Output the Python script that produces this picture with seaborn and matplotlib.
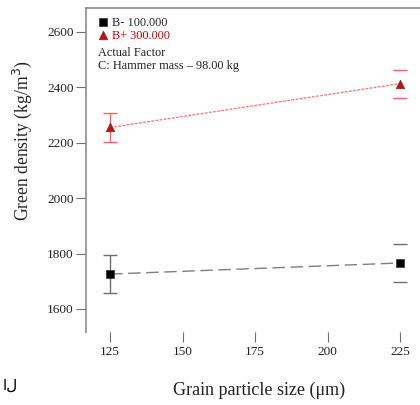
import matplotlib
matplotlib.use("Agg")
import matplotlib.pyplot as plt
import seaborn as sns
import pandas as pd

# Grain particle size levels (µm)
grain_size = [125, 225]
# Mean green density for each pressure level (kg/m^3)
density_low = [1726, 1766]     # B- 100.000
density_high = [2255, 2413]    # B+ 300.000
# Half-widths of the error bars
err_low = [68, 70]
err_high = [52, 51]

series_labels = ["B- 100.000", "B+ 300.000"]
y_ticks = [1600, 1800, 2000, 2200, 2400, 2600]
x_ticks = [125, 150, 175, 200, 225]

df = pd.DataFrame({
    "size": grain_size * 2,
    "density": density_low + density_high,
    "series": [series_labels[0]] * 2 + [series_labels[1]] * 2,
})

sns.set_style("white")
plt.rcParams["font.family"] = ["Liberation Serif", "DejaVu Serif"]

fig = plt.figure(figsize=(4.2, 4.05), dpi=100)
ax = fig.add_axes([86 / 420, 1 - 332 / 405, 1 - 86 / 420, 324 / 405])

low = df[df["series"] == series_labels[0]]
high = df[df["series"] == series_labels[1]]

# Fitted lines
sns.lineplot(data=low, x="size", y="density", ax=ax, color="#7f7f7f",
             lw=1.0, linestyle=(0, (9, 4)), legend=False)
sns.lineplot(data=high, x="size", y="density", ax=ax, color="#ff7b7b",
             lw=1.0, linestyle=(0, (2, 1)), legend=False)

# Error bars: stem on the first point, caps only on the last
for xs, ys, es, col in [(grain_size, density_low, err_low, "#6e6e6e"),
                        (grain_size, density_high, err_high, "#ff6060")]:
    ax.errorbar(xs[:1], ys[:1], yerr=es[:1], fmt="none", ecolor=col,
                elinewidth=1.0, capsize=5, capthick=1.0)
    ax.errorbar(xs[1:], ys[1:], yerr=es[1:], fmt="none", ecolor=col,
                elinewidth=0, capsize=5, capthick=1.0)

# Markers
sns.scatterplot(data=low, x="size", y="density", ax=ax, marker="s",
                color="black", s=32, edgecolor="#333333", linewidth=0.5,
                zorder=5, label=series_labels[0])
sns.scatterplot(data=high, x="size", y="density", ax=ax, marker="^",
                color="#e00000", s=38, edgecolor="#444444", linewidth=0.5,
                zorder=5, label=series_labels[1])

ax.set_xlim(116.7, 231.9)
ax.set_ylim(1517, 2686)
ax.set_xticks(x_ticks)
ax.set_yticks(y_ticks)
ax.tick_params(axis="both", direction="out", length=7, width=0.8,
               color="#6e6e6e", labelsize=9.5, labelcolor="#222222")
ax.tick_params(axis="x", pad=3)
ax.tick_params(axis="y", pad=2)
ax.tick_params(left=True, bottom=True)

for side in ["bottom", "right"]:
    ax.spines[side].set_visible(False)
for side in ["left", "top"]:
    ax.spines[side].set_color("#8c8c8c")
    ax.spines[side].set_linewidth(1.2)

ax.set_xlabel("Grain particle size (\u03bcm)", fontsize=13, color="#222222")
ax.set_ylabel("Green density (kg/m$^3$)", fontsize=12.7, color="#222222")
ax.xaxis.set_label_coords(0.518, -0.152)
ax.yaxis.set_label_coords(-0.157, 0.589)

leg = ax.legend(loc="upper left", bbox_to_anchor=(0.0, 1.0), frameon=False,
                fontsize=8.8, handletextpad=0.05, labelspacing=0.08,
                borderaxespad=0.3, handlelength=1.4)
leg.get_texts()[1].set_color("#e00000")

ax.text(12 / 334, 1 - 45 / 324, "Actual Factor", transform=ax.transAxes,
        fontsize=8.8, color="#222222", va="center")
ax.text(12 / 334, 1 - 58 / 324, "C: Hammer mass \u2013 98.00 kg",
        transform=ax.transAxes, fontsize=8.8, color="#222222", va="center")

fig.text(3 / 420, 1 - 385 / 405, "\u0627\u0644", fontsize=11,
         family="DejaVu Sans", va="center", color="black")

fig.savefig("out.png", dpi=100)
